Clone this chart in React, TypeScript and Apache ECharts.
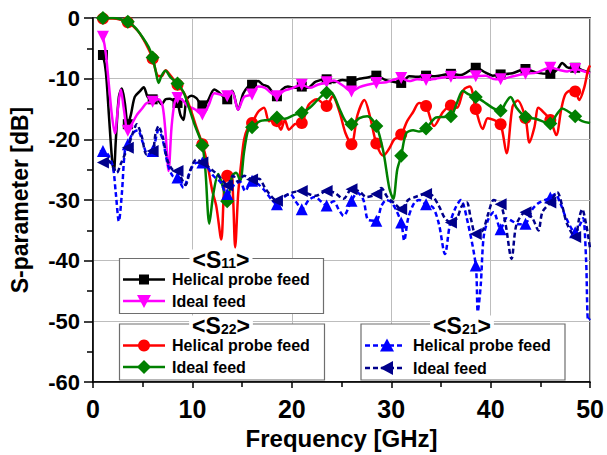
import React, { useEffect, useRef } from 'react';
import * as echarts from 'echarts';

const X_MIN = 0;
const X_MAX = 50;
const Y_MIN = -60;
const Y_MAX = 0;

// frequencies (GHz) at which the markers sit on each curve
const MARKER_FREQS = [1, 3.5, 6, 8.5, 11, 13.5, 16, 18.5, 21, 23.5, 26, 28.5, 31, 33.5, 36, 38.5, 41, 43.5, 46, 48.5];

const S11_TITLE = 'S11';
const S22_TITLE = 'S22';
const S21_TITLE = 'S21';
const HELICAL_LABEL = 'Helical probe feed';
const IDEAL_LABEL = 'Ideal feed';

// <S11> Helical probe feed
const s11Helical: [number, number][] = [
  [0.8, -5.8], [1, -6.1], [1.3, -9], [1.6, -16], [1.9, -23], [2.1, -25.3], [2.3, -20], [2.6, -13], [2.9, -11.6],
  [3.2, -14], [3.5, -17.5], [3.8, -16], [4.2, -13], [4.7, -12.1], [5.1, -11.4], [5.5, -13], [6, -13.4], [6.5, -13.5],
  [6.9, -14.2], [7.3, -13.4], [7.7, -13.3], [8.1, -13.6], [8.5, -14], [8.8, -16], [9.1, -16.8], [9.4, -13.5],
  [9.9, -12.8], [10.4, -13.2], [11, -14.4], [11.5, -13.8], [12.2, -11.8], [12.7, -12.3], [13.5, -13.4], [14, -12],
  [14.6, -15.1], [15.1, -12.5], [15.6, -11.3], [16, -11], [16.6, -10.4], [17.1, -11], [17.6, -11.3], [18.5, -12.9],
  [19, -11.8], [19.6, -11.3], [20.3, -11.5], [21, -11.3], [21.6, -11.5], [22.4, -10.5], [23.5, -10.1], [24.2, -10.6],
  [25.1, -10.2], [26, -10.4], [26.8, -10], [27.6, -9.8], [28.5, -9.5], [29.4, -10.2], [30.2, -10.5], [31, -10.7],
  [31.8, -9.6], [32.6, -9.7], [33.5, -9.5], [34.4, -9.6], [35.2, -9.4], [36, -9.2], [37, -9.4], [38.5, -8.2],
  [39.5, -9], [40.2, -9.5], [41, -9.3], [42.2, -9.1], [43.5, -8.4], [44.6, -9], [46, -9.2], [46.7, -8.5], [47.2, -7.4],
  [47.8, -8.2], [48.5, -8.2], [49.2, -8.6], [50, -9],
];

// <S11> Ideal feed
const s11Ideal: [number, number][] = [
  [0.8, -2.5], [1, -3.1], [1.3, -6], [1.6, -11], [1.9, -16], [2.2, -19], [2.5, -15], [2.8, -11.8], [3.1, -15],
  [3.5, -18.6], [3.9, -17.5], [4.4, -16], [4.9, -15], [5.4, -14], [6, -13.8], [6.6, -13.4], [7, -14.5], [7.3, -19],
  [7.6, -25.2], [7.9, -18], [8.2, -14], [8.5, -13.2], [9, -13.5], [9.5, -14.5], [10.2, -15], [11, -15.9], [11.6, -14.5],
  [12.2, -12.4], [12.8, -12.6], [13.5, -12.9], [14, -12.2], [14.6, -15.1], [15.2, -13], [16, -12.6], [16.6, -11.3],
  [17.3, -11.5], [17.8, -12.2], [18.5, -12.9], [19.2, -12], [20, -11.6], [21, -11], [21.8, -11.5], [22.6, -11],
  [23.5, -10.6], [24.2, -10.3], [25.2, -11.2], [26, -12.1], [26.8, -11.4], [27.6, -11], [28.5, -10.7], [29.5, -10.6],
  [30.2, -10.2], [31, -9.9], [31.8, -10.4], [32.6, -10.1], [33.5, -10.2], [34.5, -10], [35.2, -9.8], [36, -9.7],
  [37, -9.8], [38.5, -9.6], [39.5, -9.5], [40.2, -10], [41, -10.1], [42, -9.7], [43.5, -9.2], [44.6, -9], [46, -8.2],
  [47, -8.6], [47.7, -8.8], [48.5, -8.4], [49.2, -8.7], [50, -9.1],
];

// <S22> Helical probe feed
const s22Helical: [number, number][] = [
  [1, -0.1], [2, -0.1], [2.8, -0.3], [3.5, -0.7], [4.5, -2.1], [5.3, -4.2], [6, -6.7], [6.5, -9.5], [6.9, -9.6],
  [7.3, -8.6], [7.8, -9.5], [8.5, -11], [9.2, -12.5], [9.8, -15], [10.4, -18], [11, -20.8], [11.5, -24], [12, -28.5],
  [12.4, -31], [12.9, -36.5], [13.2, -28], [13.5, -26], [13.9, -25.5], [14.1, -30], [14.3, -37.8], [14.6, -29],
  [14.9, -24], [15.2, -20], [15.6, -18], [16, -17.3], [16.6, -15.5], [17.2, -14.8], [17.7, -17], [18.2, -16.5],
  [18.5, -17], [18.9, -18.4], [19.3, -16.8], [19.7, -18.4], [20.3, -17.5], [21, -17.3], [21.7, -14.3], [22.5, -13.4],
  [23.5, -14.5], [24.1, -12.9], [24.8, -15.5], [25.4, -19], [26, -20.8], [26.6, -16], [27.3, -13.5], [27.9, -16.5],
  [28.5, -20.7], [29.2, -22.7], [29.8, -21.5], [30.3, -20], [31, -19.2], [31.6, -17], [32.2, -15.5], [32.8, -14],
  [33.5, -14.5], [34.3, -17.8], [35.2, -15.5], [36, -14.4], [36.6, -14.8], [37.3, -11.8], [37.9, -11.3], [38.5, -15],
  [39.2, -18.3], [39.7, -16.5], [40.3, -16.8], [41, -17.5], [41.6, -22.3], [42.2, -14.6], [42.7, -13.6], [43.5, -16.5],
  [43.9, -20.5], [44.4, -18], [44.8, -14.8], [45.3, -15.5], [46, -16.8], [46.6, -19.3], [47.1, -15], [47.5, -12.6],
  [48, -12], [48.5, -12.1], [48.9, -13.5], [49.4, -11.5], [49.8, -8.5], [50, -7.8],
];

// <S22> Ideal feed
const s22Ideal: [number, number][] = [
  [1, 0], [2, 0], [2.8, -0.2], [3.5, -0.6], [4.2, -1.5], [5, -3.2], [5.6, -4.8], [6, -6.5], [6.3, -8.7], [6.6, -10.7],
  [6.9, -9.5], [7.3, -8.7], [7.8, -9.8], [8.5, -10.8], [9.1, -12.2], [9.6, -14.5], [10.2, -17.5], [11, -21],
  [11.3, -25], [11.7, -33.9], [12.1, -29], [12.6, -25.7], [13, -27.5], [13.5, -30.2], [14, -26], [14.4, -25.5],
  [14.8, -26.8], [15.2, -22], [15.6, -18.5], [16, -18], [16.8, -17], [17.6, -16.8], [18.5, -16.4], [19.3, -16.6],
  [20.2, -16], [21, -15.6], [21.8, -14.8], [22.6, -13.5], [23.5, -12.3], [24.1, -12.5], [24.8, -15], [25.4, -17],
  [26, -17.5], [26.8, -16.5], [27.6, -16.2], [28.5, -17.8], [29.2, -22], [29.8, -28], [30.2, -29.8], [30.6, -25],
  [31, -22.7], [31.5, -19], [32.2, -18.5], [32.8, -18.7], [33.5, -18.2], [34.5, -16.4], [35.3, -16.3], [36, -16.2],
  [36.6, -14], [37.2, -12], [37.8, -12.6], [38.5, -13], [39.3, -13.8], [40.2, -14.8], [41, -15.3], [41.5, -14],
  [42, -13], [42.6, -14.8], [43.5, -16.3], [44.5, -16.6], [46, -17.4], [46.6, -16], [47.2, -14.9], [47.8, -15.4],
  [48.5, -16.2], [49.2, -17], [50, -17.3],
];

// <S21> Helical probe feed
const s21Helical: [number, number][] = [
  [0.7, -22], [1, -21.9], [1.5, -22.5], [2, -24.5], [2.3, -29], [2.6, -33.5], [2.9, -29], [3.2, -22], [3.5, -20.8],
  [4, -19], [4.5, -18.5], [5, -20.5], [5.5, -22.5], [6, -21.9], [6.6, -18.5], [7, -20], [7.5, -24], [8, -26],
  [8.5, -26.3], [9.1, -28], [9.6, -26], [10.2, -24], [11, -23.8], [11.5, -24.5], [12.1, -26], [12.8, -27], [13.5, -29],
  [14.2, -27.5], [14.8, -27], [15.3, -28.5], [16, -26.8], [16.7, -27.5], [17.3, -28.5], [18, -30], [18.5, -30.7],
  [19.2, -29.5], [19.8, -29], [20.5, -30.5], [21, -31.5], [21.7, -30], [22.3, -29.5], [23, -30.3], [23.5, -30.9],
  [24.2, -30.2], [24.7, -31.5], [25.2, -32.6], [26, -30.1], [26.6, -28.8], [27.2, -30], [27.7, -33.3], [28.5, -33.4],
  [29, -31], [29.5, -30], [30.1, -30.5], [31, -33.7], [31.3, -36.7], [31.7, -33], [32.3, -30.5], [32.8, -30],
  [33.5, -30.7], [34.2, -31.2], [34.8, -34], [35.4, -38.9], [35.9, -34], [36.4, -31.5], [37, -30], [37.6, -33],
  [38.5, -40.8], [38.7, -48.4], [39, -44], [39.3, -36], [39.8, -33], [40.3, -32], [41, -34.8], [41.6, -33],
  [42.2, -33.5], [42.8, -34], [43.5, -33.9], [44.2, -31.5], [44.8, -30.5], [46, -29.6], [46.5, -29], [47, -30.5],
  [47.6, -33], [48.5, -35.3], [49, -34], [49.3, -33], [49.6, -40], [49.8, -49.8], [50, -49.5],
];

// <S21> Ideal feed
const s21Ideal: [number, number][] = [
  [0.7, -23.8], [1, -23.8], [1.5, -23.5], [2, -24.5], [2.4, -25.5], [2.8, -24], [3.2, -22.5], [3.5, -21.4], [4, -19],
  [4.4, -17.5], [4.9, -19.5], [5.4, -22.5], [6, -21.9], [6.3, -19], [6.6, -17.8], [7, -19.5], [7.5, -23.5], [8, -25],
  [8.5, -25.2], [9.3, -27.5], [9.8, -25], [10.4, -23.3], [11, -23.8], [11.6, -24.5], [12.3, -25.5], [12.9, -26.5],
  [13.5, -27.6], [14.1, -26], [14.6, -27], [15.2, -26], [16, -26.6], [16.7, -26.5], [17.3, -28], [18, -29.5],
  [18.5, -30.1], [19.3, -29.3], [20.2, -28.7], [21, -28.5], [21.7, -29], [22.4, -29.3], [23.5, -28.5], [24.3, -28.8],
  [25.2, -29.8], [26, -28.2], [26.8, -28.6], [27.5, -29.5], [28.5, -29], [29, -28], [29.6, -29.5], [30.3, -30.5],
  [31, -31.5], [31.7, -30], [32.4, -29.5], [33.5, -29], [34.1, -29.2], [34.8, -31], [35.4, -33], [36, -33.7],
  [36.6, -33], [37.1, -31], [37.6, -30.4], [38, -33], [38.5, -35.6], [39.2, -35], [39.8, -32], [40.3, -30], [41, -30.7],
  [41.5, -34], [42.1, -39.7], [42.6, -34], [43.5, -32], [44.2, -33], [44.8, -35], [45.2, -32], [46, -30.4],
  [46.7, -28.7], [47.2, -31], [47.7, -34], [48.5, -36.1], [48.9, -33], [49.2, -31.5], [49.6, -34], [50, -38],
];

const FONT = '"Liberation Sans", Arial, Helvetica, sans-serif';

const C_BLACK = '#000000';
const C_MAGENTA = '#ff00ff';
const C_RED = '#ff0000';
const C_GREEN = '#008000';
const C_BLUE = '#0000ff';
const C_NAVY = '#00008b';

function buildData(pts: [number, number][]) {
  return pts.map(([x, y]) =>
    MARKER_FREQS.includes(x) ? { value: [x, y] } : { value: [x, y], symbol: 'none' }
  );
}

function lineSeries(
  name: string,
  pts: [number, number][],
  color: string,
  symbol: string,
  size: number,
  rotate: number,
  dashed: boolean,
  z: number
) {
  return {
    type: 'line',
    name,
    data: buildData(pts),
    symbol,
    symbolSize: size,
    symbolRotate: rotate,
    showSymbol: true,
    showAllSymbol: true,
    smooth: 0.3,
    z,
    lineStyle: { color, width: 2.5, type: dashed ? [5, 3] : 'solid' },
    itemStyle: { color, borderWidth: 0 },
    emphasis: { disabled: true },
    silent: true,
  };
}

// legend helpers (graphic)
function markerShape(kind: string, cx: number, cy: number, color: string) {
  const z = 120;
  if (kind === 'square') return { type: 'rect', z, shape: { x: cx - 5, y: cy - 5, width: 10, height: 10 }, style: { fill: color } };
  if (kind === 'circle') return { type: 'circle', z, shape: { cx, cy, r: 6 }, style: { fill: color } };
  if (kind === 'diamond')
    return { type: 'polygon', z, shape: { points: [[cx, cy - 7], [cx + 7, cy], [cx, cy + 7], [cx - 7, cy]] }, style: { fill: color } };
  if (kind === 'triDown')
    return { type: 'polygon', z, shape: { points: [[cx - 7, cy - 6], [cx + 7, cy - 6], [cx, cy + 7]] }, style: { fill: color } };
  if (kind === 'triUp')
    return { type: 'polygon', z, shape: { points: [[cx - 7, cy + 6], [cx + 7, cy + 6], [cx, cy - 7]] }, style: { fill: color } };
  return { type: 'polygon', z, shape: { points: [[cx + 6, cy - 7], [cx + 6, cy + 7], [cx - 7, cy]] }, style: { fill: color } };
}

function legendRow(x1: number, x2: number, xm: number, xt: number, y: number, color: string, kind: string, dashed: boolean, label: string) {
  return [
    { type: 'line', z: 115, shape: { x1, y1: y, x2, y2: y }, style: { stroke: color, lineWidth: 2.5, lineDash: dashed ? [5, 3] : null } },
    markerShape(kind, xm, y, color),
    {
      type: 'text', z: 120, x: xt, y,
      style: { text: label, fill: '#000', font: `bold 16px ${FONT}`, textAlign: 'left', textVerticalAlign: 'middle', verticalAlign: 'middle' },
    },
  ];
}

function legendTitle(cx: number, cy: number, code: string) {
  const main = code.slice(0, 1);
  const sub = code.slice(1);
  return {
    type: 'text', z: 118, x: cx, y: cy,
    style: {
      text: `{m|<${main}}{sub|${sub}}{m|>}`,
      fill: '#000',
      fontFamily: FONT,
      fontWeight: 'bold',
      fontSize: 23,
      lineHeight: 20,
      align: 'center',
      verticalAlign: 'middle',
      backgroundColor: '#ffffff',
      padding: [0, 3, 0, 3],
      rich: {
        m: { fontSize: 23, fontWeight: 'bold', fontFamily: FONT, lineHeight: 20, fill: '#000' },
        sub: { fontSize: 14, fontWeight: 'bold', fontFamily: FONT, lineHeight: 12, verticalAlign: 'bottom', fill: '#000' },
      },
    },
  };
}

function legendBox(x: number, y: number, w: number, h: number) {
  return { type: 'rect', z: 110, shape: { x, y, width: w, height: h }, style: { fill: '#ffffff', stroke: '#6e6e6e', lineWidth: 1.2 } };
}

export default function App() {
  const ref = useRef<HTMLDivElement>(null);

  useEffect(() => {
    if (!ref.current) return;
    const chart = echarts.init(ref.current, null, { renderer: 'svg' });

    const axisCommon = {
      axisLine: { show: true, onZero: false, lineStyle: { color: '#000', width: 1.5 } },
      axisTick: { show: true, inside: false, lineStyle: { color: '#000', width: 1.5 } },
      minorTick: { show: true, splitNumber: 2, lineStyle: { color: '#000', width: 1.5 } },
      splitLine: { show: true, lineStyle: { color: '#bdbdbd', width: 1 } },
      minorSplitLine: { show: false },
    };

    const graphic: any[] = [
      legendBox(119.5, 258.5, 204, 55),
      legendTitle(221, 259.5, S11_TITLE),
      ...legendRow(123, 165, 144, 172, 279.5, C_BLACK, 'square', false, HELICAL_LABEL),
      ...legendRow(123, 165, 144, 172, 301, C_MAGENTA, 'triDown', false, IDEAL_LABEL),
      legendBox(119.5, 324, 205, 56),
      legendTitle(221, 325.5, S22_TITLE),
      ...legendRow(123, 165, 144, 172, 345.5, C_RED, 'circle', false, HELICAL_LABEL),
      ...legendRow(123, 165, 144, 172, 367, C_GREEN, 'diamond', false, IDEAL_LABEL),
      legendBox(361, 324, 204, 56),
      legendTitle(462, 325.5, S21_TITLE),
      ...legendRow(365, 402, 387, 413, 345.5, C_BLUE, 'triUp', true, HELICAL_LABEL),
      ...legendRow(365, 402, 387, 413, 368, C_NAVY, 'triLeft', true, IDEAL_LABEL),
    ];

    const option: any = {
      animation: false,
      backgroundColor: '#ffffff',
      textStyle: { fontFamily: FONT },
      grid: { left: 91, right: 16, top: 18, bottom: 71, show: true, borderColor: '#000', borderWidth: 1.5, backgroundColor: 'transparent' },
      xAxis: {
        type: 'value',
        min: X_MIN,
        max: X_MAX,
        interval: 10,
        ...axisCommon,
        axisTick: { ...axisCommon.axisTick, length: 6 },
        minorTick: { ...axisCommon.minorTick, length: 5 },
        axisLabel: { color: '#000', fontSize: 25, fontWeight: 'bold', fontFamily: FONT, margin: 14 },
        name: 'Frequency [GHz]',
        nameLocation: 'middle',
        nameGap: 41,
        nameTextStyle: { color: '#000', fontSize: 24, fontWeight: 'bold', fontFamily: FONT },
      },
      yAxis: {
        type: 'value',
        min: Y_MIN,
        max: Y_MAX,
        interval: 10,
        ...axisCommon,
        axisTick: { ...axisCommon.axisTick, length: 9 },
        minorTick: { ...axisCommon.minorTick, length: 6 },
        axisLabel: { color: '#000', fontSize: 22, fontWeight: 'bold', fontFamily: FONT, margin: 13 },
        name: 'S-parameter [dB]',
        nameLocation: 'middle',
        nameGap: 62,
        nameTextStyle: { color: '#000', fontSize: 23, fontWeight: 'bold', fontFamily: FONT },
      },
      series: [
        lineSeries('S11 Helical probe feed', s11Helical, C_BLACK, 'rect', 10, 0, false, 2),
        lineSeries('S11 Ideal feed', s11Ideal, C_MAGENTA, 'triangle', 12, 180, false, 3),
        lineSeries('S22 Helical probe feed', s22Helical, C_RED, 'circle', 12, 0, false, 4),
        lineSeries('S22 Ideal feed', s22Ideal, C_GREEN, 'diamond', 14, 0, false, 5),
        lineSeries('S21 Helical probe feed', s21Helical, C_BLUE, 'triangle', 12, 0, true, 6),
        lineSeries('S21 Ideal feed', s21Ideal, C_NAVY, 'triangle', 12, 90, true, 7),
      ],
      graphic,
    };

    chart.setOption(option);
    return () => chart.dispose();
  }, []);

  return <div ref={ref} style={{ position: 'absolute', left: 0, top: 0, width: 607, height: 455 }} />;
}
